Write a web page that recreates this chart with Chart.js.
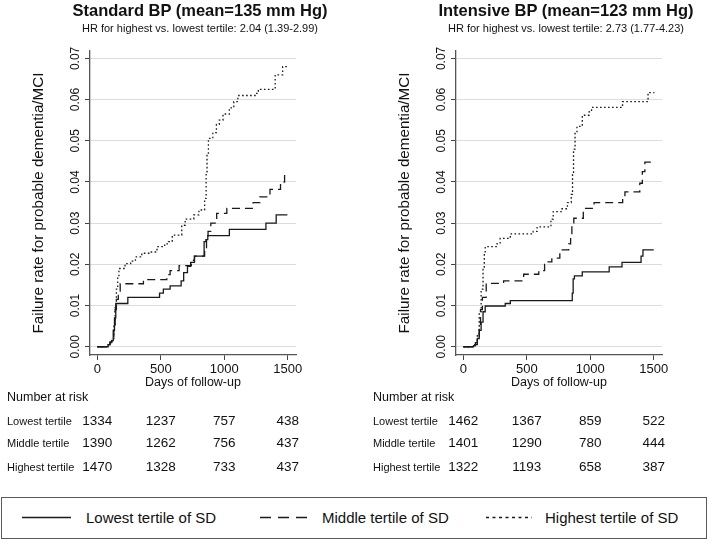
<!DOCTYPE html>
<html>
<head>
<meta charset="utf-8">
<script src="https://cdn.jsdelivr.net/npm/chart.js@4.4.0/dist/chart.umd.min.js"></script>
<style>
  body { margin: 0; background: #fff; font-family: "Liberation Sans", Arial, sans-serif; color: #111; }
  #wrap { position: relative; width: 709px; height: 540px; overflow: hidden; }
  .panel { position: absolute; top: 0; width: 340px; height: 480px; }
  .panel canvas { position: absolute; left: 0; top: 0; }
  .title { position: absolute; left: 0; width: 400px; top: 0; text-align: center; font-weight: bold; font-size: 16.5px; line-height: 20px; white-space: nowrap; }
  .sub { position: absolute; left: 0; width: 400px; top: 21px; text-align: center; font-size: 11px; line-height: 14px; white-space: nowrap; }
  .risk { position: absolute; white-space: nowrap; line-height: 16px; }
  .risk.head { font-size: 12.5px; left: 7px; }
  .risk.lab { font-size: 11px; left: 7px; }
  .risk.num { font-size: 13.5px; transform: translateX(-50%); }
  #legend { position: absolute; left: 1px; top: 497px; width: 706px; height: 42px; box-sizing: border-box; border: 1.5px solid #5a5a5a; }
  #legend svg { position: absolute; top: 0; left: 0; }
  .lt { position: absolute; top: 10px; font-size: 15px; line-height: 20px; white-space: nowrap; }
</style>
</head>
<body>
<div id="wrap">
  <div class="panel" id="pStd" style="left:0px">
    <canvas id="cStd" width="340" height="390"></canvas>
    <div class="title">Standard BP (mean=135 mm Hg)</div>
    <div class="sub">HR for highest vs. lowest tertile: 2.04 (1.39-2.99)</div>
  </div>
  <div class="panel" id="pInt" style="left:366px">
    <canvas id="cInt" width="340" height="390"></canvas>
    <div class="title">Intensive BP (mean=123 mm Hg)</div>
    <div class="sub">HR for highest vs. lowest tertile: 2.73 (1.77-4.23)</div>
  </div>
  <div id="legend">
    <svg width="704" height="40">
      <line x1="20" y1="19.5" x2="69" y2="19.5" stroke="#1a1a1a" stroke-width="1.5"/>
      <line x1="258" y1="19.5" x2="305" y2="19.5" stroke="#1a1a1a" stroke-width="1.5" stroke-dasharray="11 7"/>
      <line x1="484" y1="19.5" x2="530" y2="19.5" stroke="#1a1a1a" stroke-width="1.5" stroke-dasharray="3 3.5"/>
    </svg>
    <div class="lt" style="left:84px">Lowest tertile of SD</div>
    <div class="lt" style="left:320px">Middle tertile of SD</div>
    <div class="lt" style="left:543px">Highest tertile of SD</div>
  </div>
</div>
<script>
var xTicks = [0, 500, 1000, 1500];
var yTicks = [0, 0.01, 0.02, 0.03, 0.04, 0.05, 0.06, 0.07];
var tertiles = ['Lowest tertile', 'Middle tertile', 'Highest tertile'];

// Standard BP arm
var stdLowDays  = [0, 85, 100, 112, 125, 135, 145, 240, 490, 520, 573, 660, 680, 710, 735, 765, 841, 855, 870, 1040, 1328, 1409, 1497];
var stdLowRate  = [0, 0.0005, 0.001, 0.0015, 0.004, 0.007, 0.0105, 0.012, 0.013, 0.014, 0.0148, 0.016, 0.018, 0.0195, 0.0205, 0.022, 0.0255, 0.026, 0.027, 0.0285, 0.030, 0.032, 0.032];
var stdMidDays  = [0, 85, 100, 115, 130, 140, 150, 165, 180, 363, 547, 573, 644, 740, 765, 845, 860, 872, 894, 940, 1020, 1227, 1280, 1360, 1443, 1475, 1497];
var stdMidRate  = [0, 0.0005, 0.0012, 0.002, 0.005, 0.009, 0.0115, 0.0135, 0.0153, 0.0163, 0.0175, 0.0185, 0.0197, 0.021, 0.022, 0.024, 0.026, 0.028, 0.030, 0.0324, 0.0336, 0.035, 0.0364, 0.0382, 0.040, 0.0421, 0.0421];
var stdHighDays = [0, 85, 100, 115, 130, 140, 150, 160, 170, 218, 262, 300, 350, 415, 470, 530, 560, 590, 665, 692, 760, 800, 845, 857, 864, 875, 910, 938, 960, 990, 1040, 1075, 1107, 1250, 1268, 1401, 1460, 1498];
var stdHighRate = [0, 0.0005, 0.0012, 0.002, 0.005, 0.01, 0.014, 0.017, 0.019, 0.0202, 0.0208, 0.0218, 0.0227, 0.023, 0.0243, 0.025, 0.0255, 0.0271, 0.0295, 0.031, 0.032, 0.0332, 0.036, 0.042, 0.047, 0.0506, 0.052, 0.054, 0.055, 0.0565, 0.058, 0.0595, 0.061, 0.0615, 0.0625, 0.066, 0.068, 0.068];

// Intensive BP arm
var intLowDays  = [0, 80, 95, 110, 125, 140, 155, 172, 330, 370, 858, 865, 875, 937, 1149, 1250, 1400, 1415, 1500];
var intLowRate  = [0, 0.0003, 0.001, 0.002, 0.004, 0.006, 0.0085, 0.0099, 0.0105, 0.0112, 0.013, 0.0165, 0.0172, 0.0182, 0.0194, 0.0205, 0.022, 0.0235, 0.0235];
var intMidDays  = [0, 90, 110, 125, 135, 150, 180, 317, 475, 594, 640, 660, 697, 760, 830, 845, 855, 870, 945, 1030, 1255, 1273, 1390, 1410, 1430, 1500];
var intMidRate  = [0, 0.0005, 0.002, 0.005, 0.009, 0.012, 0.0154, 0.016, 0.0176, 0.0185, 0.020, 0.0206, 0.0215, 0.0235, 0.025, 0.027, 0.030, 0.0312, 0.0336, 0.035, 0.036, 0.0376, 0.0397, 0.0425, 0.0448, 0.0448];
var intHighDays = [0, 90, 110, 125, 140, 155, 165, 172, 264, 290, 370, 550, 581, 690, 708, 770, 820, 850, 860, 868, 880, 895, 937, 990, 1010, 1254, 1455, 1505];
var intHighRate = [0, 0.001, 0.003, 0.008, 0.014, 0.019, 0.0225, 0.0243, 0.025, 0.0263, 0.0274, 0.028, 0.0291, 0.031, 0.0328, 0.0335, 0.035, 0.037, 0.042, 0.048, 0.052, 0.0535, 0.0562, 0.057, 0.0581, 0.0595, 0.0617, 0.0617];

var stdAtRisk = [[1334, 1237, 757, 438], [1390, 1262, 756, 437], [1470, 1328, 733, 437]];
var intAtRisk = [[1462, 1367, 859, 522], [1401, 1290, 780, 444], [1322, 1193, 658, 387]];

var FONT = '"Liberation Sans", Arial, sans-serif';
var INK = '#1a1a1a';

function pts(days, rate) {
  return days.map(function (d, i) { return { x: d, y: rate[i] }; });
}

function line(data, dash) {
  return {
    data: data,
    borderColor: INK,
    borderWidth: 1.3,
    borderDash: dash,
    borderCapStyle: 'butt',
    stepped: true,
    pointRadius: 0,
    fill: false
  };
}

function makePanel(id, panelId, low, mid, high, atRisk) {
  var chart = new Chart(document.getElementById(id), {
    type: 'line',
    data: {
      datasets: [line(low, []), line(mid, [8, 5]), line(high, [1.6, 2.4])]
    },
    options: {
      responsive: false,
      animation: false,
      devicePixelRatio: 1,
      layout: { padding: { left: 0, right: 44, top: 51, bottom: 0 } },
      plugins: { legend: { display: false }, tooltip: { enabled: false } },
      scales: {
        x: {
          type: 'linear',
          min: -58,
          max: 1565,
          afterBuildTicks: function (s) { s.ticks = xTicks.map(function (v) { return { value: v }; }); },
          afterFit: function (s) { s.height = 35; },
          grid: { drawOnChartArea: false, tickLength: 5, tickColor: '#444' },
          border: { color: '#555', width: 1.3 },
          ticks: {
            font: { size: 13, family: FONT }, color: '#111', padding: 2, maxRotation: 0,
            callback: function (v) { return String(v); }
          },
          title: { display: true, text: 'Days of follow-up', color: '#111', font: { size: 12.5, family: FONT }, padding: { top: 0, bottom: 0 } }
        },
        y: {
          type: 'linear',
          min: -0.002,
          max: 0.0718,
          afterBuildTicks: function (s) { s.ticks = yTicks.map(function (v) { return { value: v }; }); },
          afterFit: function (s) { s.width = 90; },
          grid: { color: '#dcdcdc', lineWidth: 1, tickLength: 5, tickColor: '#444' },
          border: { color: '#555', width: 1.3 },
          ticks: {
            font: { size: 12, family: FONT }, color: '#111',
            minRotation: 90, maxRotation: 90, crossAlign: 'center', padding: -2.7,
            callback: function (v) { return v.toFixed(2); }
          },
          title: { display: true, text: 'Failure rate for probable dementia/MCI', color: '#111', font: { size: 15.2, family: FONT }, padding: { top: 30, bottom: 0 } }
        }
      }
    }
  });

  // number-at-risk table under the axis, aligned with the x ticks
  var panel = document.getElementById(panelId);
  var rowsY = [421, 443, 467];
  var head = document.createElement('div');
  head.className = 'risk head';
  head.style.top = (397 - 8) + 'px';
  head.textContent = 'Number at risk';
  panel.appendChild(head);
  tertiles.forEach(function (t, r) {
    var lab = document.createElement('div');
    lab.className = 'risk lab';
    lab.style.top = (rowsY[r] - 8) + 'px';
    lab.textContent = t;
    panel.appendChild(lab);
    atRisk[r].forEach(function (n, c) {
      var el = document.createElement('div');
      el.className = 'risk num';
      el.style.top = (rowsY[r] - 8) + 'px';
      el.style.left = chart.scales.x.getPixelForValue(xTicks[c]) + 'px';
      el.textContent = n;
      panel.appendChild(el);
    });
  });
  return chart;
}

makePanel('cStd', 'pStd', pts(stdLowDays, stdLowRate), pts(stdMidDays, stdMidRate), pts(stdHighDays, stdHighRate), stdAtRisk);
makePanel('cInt', 'pInt', pts(intLowDays, intLowRate), pts(intMidDays, intMidRate), pts(intHighDays, intHighRate), intAtRisk);
</script>
</body>
</html>
